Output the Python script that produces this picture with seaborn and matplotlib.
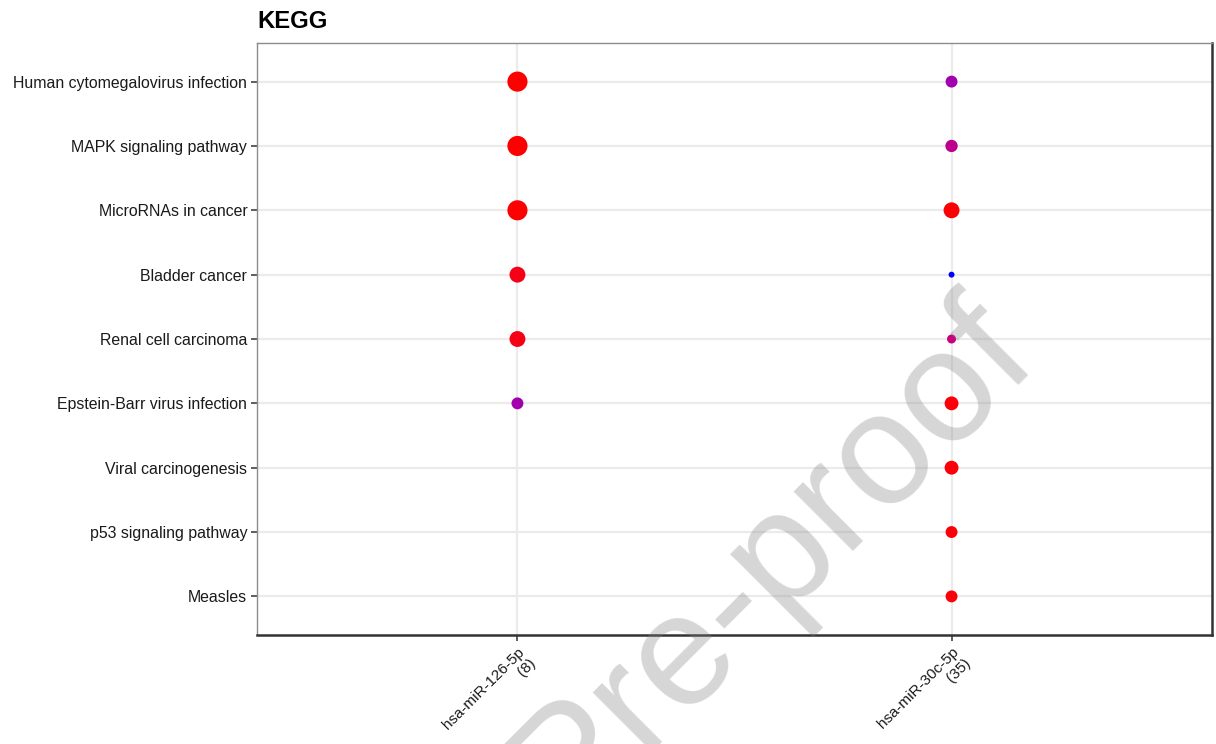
import numpy as np
import pandas as pd
import matplotlib
matplotlib.use("Agg")
import matplotlib.pyplot as plt
from matplotlib.colors import LinearSegmentedColormap
import seaborn as sns

# KEGG enrichment of miRNA target genes, compared across two miRNAs
pathways = [
    "Human cytomegalovirus infection",
    "MAPK signaling pathway",
    "MicroRNAs in cancer",
    "Bladder cancer",
    "Renal cell carcinoma",
    "Epstein-Barr virus infection",
    "Viral carcinogenesis",
    "p53 signaling pathway",
    "Measles",
]
clusters = ["hsa-miR-126-5p\n(8)", "hsa-miR-30c-5p\n(35)"]

mir126_pathways = pathways[:6]
mir126_ratio = [0.40, 0.40, 0.40, 0.25, 0.25, 0.14]
mir126_padj = [0.0005, 0.0005, 0.0005, 0.0030, 0.0030, 0.0180]

mir30c_pathways = pathways
mir30c_ratio = [0.14, 0.15, 0.25, 0.035, 0.08, 0.19, 0.19, 0.14, 0.14]
mir30c_padj = [0.0180, 0.0140, 0.0010, 0.0300, 0.0120, 0.0015, 0.0015, 0.0015, 0.0015]

df = pd.concat([
    pd.DataFrame({"Cluster": clusters[0], "Description": mir126_pathways,
                  "GeneRatio": mir126_ratio, "p.adjust": mir126_padj}),
    pd.DataFrame({"Cluster": clusters[1], "Description": mir30c_pathways,
                  "GeneRatio": mir30c_ratio, "p.adjust": mir30c_padj}),
], ignore_index=True)
df["Cluster"] = pd.Categorical(df["Cluster"], categories=clusters, ordered=True)
df["Description"] = pd.Categorical(df["Description"], categories=pathways, ordered=True)

sns.set_theme(style="white")
plt.rcParams["font.family"] = ["Liberation Sans", "DejaVu Sans"]

# red (significant) -> blue, through purple
cmap = LinearSegmentedColormap.from_list(
    "padj", ["#FF0000", "#E8003A", "#C8007F", "#A000B0", "#6A00D0", "#0000FF"])

fig = plt.figure(figsize=(12.16, 7.44), dpi=100)
ax = fig.add_axes([257 / 1216, 1 - 635 / 744, 955 / 1216, 592 / 744])

# category order fixed by plotting a full grid first
ax.scatter(np.repeat(clusters, len(pathways)), np.tile(pathways, len(clusters)), s=0)

sns.scatterplot(
    data=df, x="Cluster", y="Description",
    hue="p.adjust", palette=cmap, hue_norm=(0.0005, 0.03),
    size="GeneRatio", sizes=(0, 210), size_norm=(0, 0.40),
    linewidth=0, legend=False, ax=ax, zorder=3,
)

ax.set_xlim(-0.6, 1.6)
ax.set_ylim(len(pathways) - 0.4, -0.6)
ax.set_xlabel("")
ax.set_ylabel("")

ax.grid(True, color="#EBEBEB", linewidth=1.6, zorder=0)
ax.set_axisbelow(True)

for side in ["top", "left"]:
    ax.spines[side].set_color("#8C8C8C")
    ax.spines[side].set_linewidth(1.0)
for side in ["bottom", "right"]:
    ax.spines[side].set_color("#333333")
    ax.spines[side].set_linewidth(1.8)

ax.tick_params(axis="both", which="major", length=4, width=1.1, color="#333333",
               left=True, bottom=True, labelcolor="#1A1A1A", pad=3)
ax.tick_params(axis="y", labelsize=11.45)
ax.tick_params(axis="x", labelsize=11)
ax.set_yticks(range(len(pathways)))
ax.set_yticklabels(pathways)
ax.set_xticks(range(len(clusters)))
ax.set_xticklabels(clusters, rotation=45, ha="right", va="top",
                   rotation_mode="anchor", multialignment="right")

fig.text(257 / 1216, 1 - 28 / 744, "KEGG", fontsize=17.2, fontweight="bold",
         ha="left", va="baseline", color="black")

fig.text(773 / 1216, 1 - 560 / 744, "Pre-proof", fontsize=115, rotation=45,
         ha="center", va="center", color=(0.5, 0.5, 0.5), alpha=0.32,
         rotation_mode="anchor", zorder=10)

fig.savefig("out.png", dpi=100)
